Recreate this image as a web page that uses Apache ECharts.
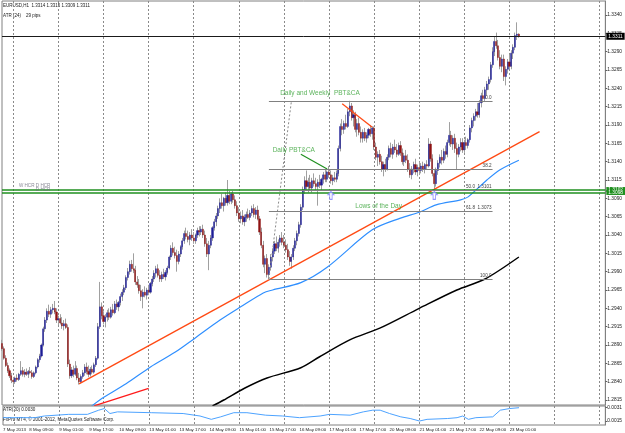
<!DOCTYPE html>
<html>
<head>
<meta charset="utf-8">
<script src="https://cdn.jsdelivr.net/npm/echarts@6/dist/echarts.min.js"></script>
<style>
html, body { margin: 0; padding: 0; background: #fff; }
#chart { width: 625px; height: 433px; }
</style>
</head>
<body>
<div id="chart"></div>
<script>
// EURUSD H1, 7 May 2013 19:00 .. 23 May 2013 06:00
// bar prices are in pips above BASE
const BASE = 1.28;

const barOpen = [
  92,85,72,62,55,48,42,40,45,43, 50,55,50,53,50,54,52,47,52,60,
  70,75,90,112,124,136,132,138,140,135, 124,126,120,116,119,114,64,48,56,50,
  58,45,40,47,52,60,54,50,57,53, 63,72,115,142,130,122,128,134,128,138,
  134,146,142,148,156,162,168,182,190,200, 194,192,176,172,164,156,162,158,165,162,
  174,180,188,194,185,180,186,183,189,195, 210,222,216,212,204,214,224,232,242,238,
  234,240,236,232,240,246,244,248,240,228, 214,226,236,250,258,266,276,284,280,290,
  284,294,286,296,288,280,270,262,266,258, 264,268,264,270,276,268,274,262,244,226,
  200,208,186,196,210,218,228,222,230,236, 230,226,220,210,204,210,222,232,242,254,
  278,302,314,306,312,304,314,310,306,312, 308,316,322,316,326,322,314,318,316,324,
  358,388,384,392,388,408,416,400,404,384, 392,380,372,380,372,376,384,378,386,360,
  346,350,340,330,336,330,346,358,350,360, 356,350,362,352,340,348,342,330,322,330,
  336,326,332,328,334,330,336,334,364,344, 324,310,328,338,346,342,354,350,366,376,
  364,372,358,350,360,366,356,366,362,370, 386,396,402,408,404,420,430,426,438,446,
  452,472,490,504,498,482,470,480,456,466, 476,470,488,496,512,514
];
const barClose = [
  85,72,62,55,48,42,40,45,43,50, 55,50,53,50,54,52,47,52,60,70,
  75,90,112,124,136,132,138,140,135,124, 126,120,116,119,114,64,48,56,50,58,
  45,40,47,52,60,54,50,57,53,63, 72,115,142,130,122,128,134,128,138,134,
  146,142,148,156,162,168,182,190,200,194, 192,176,172,164,156,162,158,165,162,174,
  180,188,194,185,180,186,183,189,195,210, 222,216,212,204,214,224,232,242,238,234,
  240,236,232,240,246,244,248,240,228,214, 226,236,250,258,266,276,284,280,290,284,
  294,286,296,288,280,270,262,266,258,264, 268,264,270,276,268,274,262,244,226,200,
  208,186,196,210,218,228,222,230,236,230, 226,220,210,204,210,222,232,242,254,278,
  302,314,306,312,304,314,310,306,312,308, 316,322,316,326,322,314,318,316,324,358,
  388,384,392,388,408,416,400,404,384,392, 380,372,380,372,376,384,378,386,360,346,
  350,340,330,336,330,346,358,350,360,356, 350,362,352,340,348,342,330,322,330,336,
  326,332,328,334,330,336,334,364,344,324, 310,328,338,346,342,354,350,366,376,364,
  372,358,350,360,366,356,366,362,370,386, 396,402,408,404,420,430,426,438,446,452,
  472,490,504,498,482,470,480,456,466,476, 470,488,496,512,514,511
];
const barHigh = [
  97,88,76,66,58,52,46,47,50,52, 68,60,57,58,56,60,56,54,62,72,
  78,92,115,128,140,145,142,146,150,140, 130,132,128,124,126,118,70,60,62,68,
  62,52,50,56,64,66,62,60,62,66, 75,120,176,148,136,132,138,140,142,146,
  150,152,150,160,166,172,185,195,205,206, 215,198,184,180,172,166,170,168,172,176,
  184,192,198,200,192,190,194,192,198,212, 226,230,224,220,218,226,236,246,250,246,
  244,248,244,242,250,252,252,254,246,236, 232,240,252,262,270,280,290,296,292,298,
  315,300,298,300,294,286,278,272,274,268, 272,276,274,280,282,278,280,266,250,232,
  212,214,200,214,222,232,238,234,240,244, 240,234,228,218,214,226,236,246,258,282,
  306,320,328,318,322,318,324,318,316,322, 318,326,330,328,334,328,322,326,328,362,
  392,398,396,404,412,423,420,410,408,398, 400,388,384,386,380,386,390,388,388,366,
  354,356,348,340,344,350,362,366,364,370, 364,366,368,358,352,356,350,338,334,340,
  344,336,340,338,340,338,342,372,368,350, 330,332,342,350,356,358,362,370,394,382,
  376,378,366,364,372,372,370,374,372,390, 400,406,412,420,424,434,438,442,450,456,
  476,496,510,516,506,492,486,486,470,480, 486,492,500,516,530,515
];
const barLow = [
  82,70,60,52,45,38,35,37,40,41, 48,47,46,48,45,50,44,45,50,58,
  66,73,88,108,120,128,127,133,132,120, 117,118,112,110,112,60,44,45,46,48,
  42,36,38,44,48,50,46,47,50,51, 60,70,112,125,118,114,122,124,126,130,
  132,138,136,144,150,158,165,178,186,190, 188,172,168,160,150,140,155,152,158,160,
  170,176,182,182,176,176,180,178,186,193, 206,212,208,190,200,210,220,228,234,230,
  226,232,228,228,236,238,240,236,224,210, 192,222,232,246,252,262,270,276,272,280,
  280,282,282,284,276,266,258,256,254,252, 258,262,260,266,264,262,260,240,222,196,
  188,182,180,192,204,214,218,216,224,226, 222,216,206,198,194,206,218,226,238,250,
  274,296,300,298,300,298,306,300,280,304, 300,310,312,312,318,310,308,312,312,320,
  354,376,378,384,386,402,396,388,380,374, 376,366,366,368,366,372,374,370,356,342,
  334,336,326,320,326,328,342,346,344,352, 346,348,348,336,334,338,326,318,316,324,
  322,320,322,324,326,324,330,332,340,320, 302,306,322,332,336,338,344,346,362,360,
  356,352,330,346,354,352,352,356,358,366, 380,388,396,400,400,414,420,422,430,438,
  448,468,484,494,478,466,462,450,444,460, 466,466,480,492,506,509
];

// moving averages, [bar, pips]
const maBlue = [[45,1],[52,15],[66,37],[79,60],[92,80],[103,100],[116,124],[127,142],[139,161],[144,165],
  [159,175],[173,196],[197,247],[212,263],[222,271],[231,281],[244,288],[248,292],[258,315],[265,329],[275,342]];
const maBlack = [[112,7],[118,15],[129,31],[141,45],[159,59],[169,74],[185,97],[201,113],[222,140],[242,165],[257,180],[275,210]];

// ATR(20) sub window, [bar, value]
const atrLine = [[0,0.0019],[17,0.0019],[22,0.0021],[35,0.0023],[45,0.0023],[51,0.0028],[54,0.0030],[57,0.0024],
  [61,0.0026],[79,0.0025],[96,0.0024],[105,0.0021],[111,0.0017],[116,0.0020],[123,0.0025],[130,0.0025],
  [140,0.0022],[149,0.0021],[158,0.0019],[169,0.0021],[174,0.0023],[185,0.0022],[192,0.0026],[197,0.0028],
  [201,0.0028],[206,0.0024],[212,0.0020],[217,0.0018],[222,0.0015],[226,0.0017],[237,0.0018],[242,0.0019],
  [245,0.0021],[248,0.0017],[252,0.0019],[261,0.0020],[265,0.0028],[270,0.0030],[275,0.0031]];

// drawn objects, [bar, pips]
const trendLine = [[41,37],[286,381]];
const weeklyArrow = [[181,419],[197,387]];
const dailyArrow = [[159,350],[173,330]];
const redLine = [[49,7],[78,31]];
const fibAnchor = [[142,180],[154,423]];
const fibPrices = [1.3223, 1.3130, 1.3101, 1.3073, 1.2980];
const fibLabels = ['0.0', '38.2', '50.0  1.3101', '61.8  1.3073', '100.0'];
const fibSpan = [142, 261];
const upArrows = [[175,1.3094],[230,1.3094]];
const bidPrice = 1.3311;
const hcrPrices = [1.3102, 1.3098];

const notes = [
  { text: 'Daily and Weekly  PBT&CA', at: [148, 1.3233], color: '#33a033', size: 6.5 },
  { text: 'Daily PBT&CA', at: [144, 1.3155], color: '#33a033', size: 6.5 },
  { text: 'Lows of the Day', at: [188, 1.30795], color: '#33a033', size: 6.5 },
  { text: 'W HCR', at: [9, 1.3107], color: '#6a6a7a', size: 4.6 },
  { text: 'D HCR', at: [18, 1.31075], color: '#6a6a7a', size: 4.6 },
  { text: 'D HCR', at: [18, 1.3102], color: '#6a6a7a', size: 4.6 }
];

const priceTicks = [1.2815, 1.2840, 1.2865, 1.2890, 1.2915, 1.2940, 1.2965, 1.2990, 1.3015, 1.3040, 1.3065,
  1.3090, 1.3115, 1.3140, 1.3165, 1.3190, 1.3215, 1.3240, 1.3265, 1.3290, 1.3315, 1.3340];
const atrTicks = [0.0015, 0.0031];
const timeTickIndex = [0, 14, 30, 46, 62, 78, 94, 110, 126, 142, 158, 174, 190, 206, 222, 238, 254, 270];
const timeTickText = ['7 May 2013', '8 May 09:00', '9 May 01:00', '9 May 17:00', '10 May 09:00', '13 May 01:00',
  '13 May 17:00', '14 May 09:00', '15 May 01:00', '15 May 17:00', '16 May 09:00', '17 May 01:00',
  '17 May 17:00', '20 May 09:00', '21 May 01:00', '21 May 17:00', '22 May 09:00', '23 May 01:00'];

const SLOTS = 322;
const slots = [];
for (let i = 0; i < SLOTS; i++) slots.push(String(i));

const px = p => Math.round((BASE + p / 10000) * 1e5) / 1e5;
const toPrice = pts => pts.map(d => [d[0], px(d[1])]);

const wickData = barOpen.map((o, i) => [px(o), px(barClose[i]), px(barLow[i]), px(barHigh[i])]);
const bodyData = barOpen.map((o, i) => {
  let c = barClose[i];
  return [px(o), px(c), px(Math.min(o, c)), px(Math.max(o, c))];
});

const FONT = 'Liberation Sans, Arial, sans-serif';
const WICK = '#a0a0a0';
const UP = '#1c1c96';
const DOWN = '#8e1212';
const GREEN = '#1f8f1f';
const dayLine = i => (i - 6) % 24 === 0;
const gridLine = { show: true, interval: dayLine, lineStyle: { color: '#8a8a8a', width: 1, type: [2, 2] } };

function simpleLine(name, pts, color, width, type) {
  return {
    name: name, type: 'line', xAxisIndex: 0, yAxisIndex: 0,
    data: toPrice(pts), symbol: 'none', silent: true,
    lineStyle: { color: color, width: width, type: type || 'solid' },
    z: 4
  };
}

let chart = echarts.init(document.getElementById('chart'));

let option = {
  animation: false,
  backgroundColor: '#ffffff',
  textStyle: { fontFamily: FONT },
  grid: [
    { left: 2, right: 19, top: 1, height: 404, show: true, borderColor: '#808080', borderWidth: 1 },
    { left: 2, right: 19, top: 406, height: 19, show: true, borderColor: '#808080', borderWidth: 1 }
  ],
  xAxis: [
    {
      type: 'category', gridIndex: 0, data: slots, boundaryGap: false,
      axisLine: { show: false }, axisTick: { show: false }, axisLabel: { show: false },
      splitLine: gridLine
    },
    {
      type: 'category', gridIndex: 1, data: slots, boundaryGap: false,
      axisLine: { show: false }, axisTick: { show: false },
      axisLabel: {
        interval: i => timeTickIndex.indexOf(i) !== -1,
        formatter: v => timeTickText[timeTickIndex.indexOf(+v)] || '',
        fontSize: 4.4, color: '#202020', align: 'left', margin: 3, fontFamily: FONT
      },
      splitLine: gridLine
    }
  ],
  yAxis: [
    {
      type: 'value', gridIndex: 0, position: 'right', min: 1.280818, max: 1.335909,
      axisLine: { show: true, lineStyle: { color: '#808080' } },
      axisTick: { show: true, length: 2, customValues: priceTicks, lineStyle: { color: '#606060' } },
      axisLabel: { customValues: priceTicks, formatter: v => v.toFixed(4), fontSize: 4.8, color: '#202020', margin: 2, fontFamily: FONT },
      splitLine: { show: false }
    },
    {
      type: 'value', gridIndex: 1, position: 'right', min: 0.001019, max: 0.003305,
      axisLine: { show: true, lineStyle: { color: '#808080' } },
      axisTick: { show: true, length: 2, customValues: atrTicks, lineStyle: { color: '#606060' } },
      axisLabel: { customValues: atrTicks, formatter: v => v.toFixed(4), fontSize: 4.8, color: '#202020', margin: 2, fontFamily: FONT },
      splitLine: { show: false }
    }
  ],
  graphic: [
    { type: 'text', left: 3, top: 3.5, style: { text: 'EURUSD,H1  1.3314 1.3315 1.3309 1.3311', font: '4.5px ' + FONT, fill: '#202020' } },
    { type: 'text', left: 3, top: 13, style: { text: 'ATR (24)    29 pips', font: '4.5px ' + FONT, fill: '#202020' } },
    { type: 'text', left: 3, top: 407.5, style: { text: 'ATR(20) 0.0030', font: '4.6px ' + FONT, fill: '#202020' } },
    { type: 'text', left: 3, top: 417.5, style: { text: 'FxPro MT4, \u00a9 2001-2012, MetaQuotes Software Corp.', font: '4.6px ' + FONT, fill: '#202020' } }
  ],
  series: [
    {
      name: 'wick', type: 'candlestick', xAxisIndex: 0, yAxisIndex: 0,
      data: wickData, barWidth: 1, silent: true,
      itemStyle: { color: WICK, color0: WICK, borderColor: WICK, borderColor0: WICK, borderWidth: 1 },
      markLine: {
        silent: true, symbol: ['none', 'none'], precision: 4,
        data: [
          {
            yAxis: bidPrice, lineStyle: { color: '#1a1a1a', width: 1, type: 'solid' },
            label: { position: 'end', distance: 1, formatter: bidPrice.toFixed(4), color: '#fff', backgroundColor: '#000',
              fontSize: 4.8, padding: [1, 2, 1, 2], fontFamily: FONT }
          }
        ].concat(hcrPrices.map(p => ({
          yAxis: p, lineStyle: { color: GREEN, width: 1.6, type: 'solid' },
          label: { position: 'end', distance: 1, formatter: p.toFixed(4), color: '#fff', backgroundColor: GREEN,
            fontSize: 4.8, padding: [0, 2, 0, 2], fontFamily: FONT }
        })))
      },
      z: 2
    },
    {
      name: 'body', type: 'candlestick', xAxisIndex: 0, yAxisIndex: 0,
      data: bodyData, barWidth: 1.6, silent: true,
      itemStyle: { color: UP, color0: DOWN, borderColor: UP, borderColor0: DOWN, borderWidth: 0.4 },
      z: 3
    },
    {
      name: 'ma blue', type: 'line', xAxisIndex: 0, yAxisIndex: 0, data: toPrice(maBlue),
      symbol: 'none', smooth: 0.3, silent: true, lineStyle: { color: '#2f8fff', width: 1.2 }, z: 4
    },
    {
      name: 'ma black', type: 'line', xAxisIndex: 0, yAxisIndex: 0, data: toPrice(maBlack),
      symbol: 'none', smooth: 0.3, silent: true, lineStyle: { color: '#000', width: 1.5 }, z: 4
    },
    simpleLine('trend', trendLine, '#ff4a14', 1.3),
    simpleLine('weekly', weeklyArrow, '#ff4a14', 1.3),
    simpleLine('daily', dailyArrow, GREEN, 1.2),
    {
      name: 'red', type: 'line', xAxisIndex: 0, yAxisIndex: 0, silent: true,
      data: [toPrice(redLine)[0], { value: toPrice(redLine)[1], symbol: 'rect', symbolSize: 3 }],
      symbol: 'none', showSymbol: true, lineStyle: { color: '#ff1a1a', width: 1.3 },
      itemStyle: { color: '#ff1a1a' }, z: 4
    },
    {
      name: 'fib', type: 'line', xAxisIndex: 0, yAxisIndex: 0, silent: true,
      data: toPrice(fibAnchor), symbol: 'none', lineStyle: { color: '#8a8a8a', width: 1, type: [2, 2] },
      markLine: {
        silent: true, symbol: ['none', 'none'],
        lineStyle: { color: '#808080', width: 1, type: 'solid' },
        label: { position: 'insideEndTop', distance: 1, fontSize: 4.6, color: '#404040', fontFamily: FONT },
        data: fibPrices.map((p, k) => [
          { coord: [fibSpan[0], p], label: { formatter: fibLabels[k] } },
          { coord: [fibSpan[1], p] }
        ])
      },
      z: 4
    },
    {
      name: 'arrows', type: 'scatter', xAxisIndex: 0, yAxisIndex: 0, silent: true,
      data: upArrows,
      symbol: 'path://M5,0 L10,5 L7,5 L7,12 L3,12 L3,5 L0,5 Z', symbolSize: [6, 8],
      itemStyle: { color: '#ffffff', borderColor: '#7d7dff', borderWidth: 1 }, z: 6
    },
    {
      name: 'notes', type: 'scatter', xAxisIndex: 0, yAxisIndex: 0, silent: true,
      symbolSize: 0,
      data: notes.map(n => ({
        value: n.at,
        label: { show: true, position: 'right', distance: 0, formatter: n.text, color: n.color, fontSize: n.size, fontFamily: FONT }
      })),
      z: 6
    },
    {
      name: 'atr', type: 'line', xAxisIndex: 1, yAxisIndex: 1, silent: true,
      data: atrLine, symbol: 'none', lineStyle: { color: '#4da3ff', width: 1 }, z: 4
    }
  ]
};

chart.setOption(option);
</script>
</body>
</html>
